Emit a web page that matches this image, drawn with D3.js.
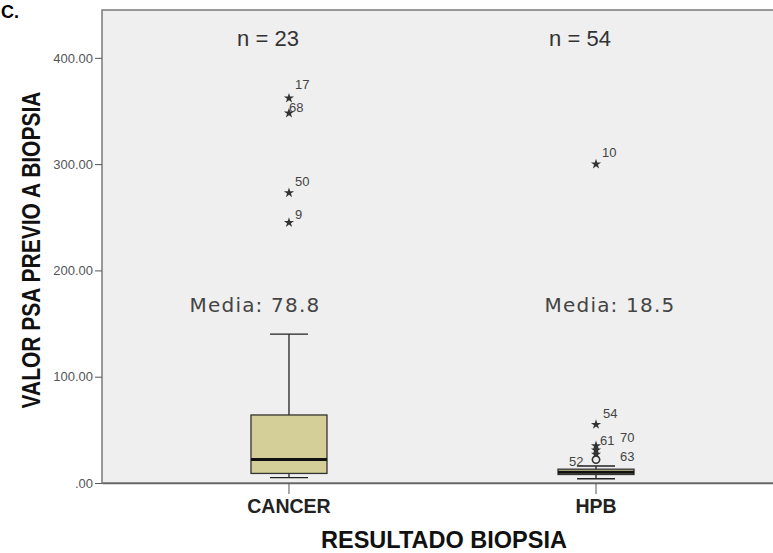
<!DOCTYPE html>
<html>
<head>
<meta charset="utf-8">
<script src="https://cdn.jsdelivr.net/npm/d3@7"></script>
<style>
  body { margin: 0; background: #fff; }
  svg { display: block; font-family: "Liberation Sans", Arial, sans-serif; }
</style>
</head>
<body>
<svg id="box" width="773" height="553"></svg>
<script>
// data
var groups = ['CANCER', 'HPB']
var groupN = [23, 54]
var groupMean = [78.8, 18.5]
// whisker low, q1, median, q3, whisker high
var boxStats = [
  [5, 9, 22, 64, 140],
  [4, 8, 10, 13, 16]
]
// outliers: group, case id, value, kind (star = extreme, circle = outlier)
var outGroup = ['CANCER', 'CANCER', 'CANCER', 'CANCER', 'HPB', 'HPB', 'HPB', 'HPB', 'HPB', 'HPB']
var outId = ['17', '68', '50', '9', '10', '54', '61', '70', '63', '52']
var outValue = [362, 348, 273, 245, 300, 55, 35, 31, 27, 22]
var outKind = ['star', 'star', 'star', 'star', 'star', 'star', 'star', 'star', 'star', 'circle']
var yTicks = [0, 100, 200, 300, 400]

var margins = {top: 10, left: 102, bottom: 70}
var outerWidth = 773, outerHeight = 553
var plotRight = 783
var plotBottom = outerHeight - margins.bottom

var svg = d3.select('svg#box')

svg.append('text')
  .attr('x', 1).attr('y', 18)
  .style('font-size', '18px').style('font-weight', 'bold')
  .text('C.')

var xScale = d3.scaleBand()
  .domain(groups)
  .range([margins.left, plotRight])
  .paddingInner(0)
  .paddingOuter(0.109)

var yScale = d3.scaleLinear()
  .domain([0, 445])
  .range([plotBottom, margins.top])

// plot background + frame
svg.append('rect')
  .attr('x', margins.left).attr('y', margins.top)
  .attr('width', plotRight - margins.left)
  .attr('height', plotBottom - margins.top)
  .style('fill', '#efefef')
  .style('stroke', '#7a7a7a')
  .style('stroke-width', 1.5)

var yAxis = d3.axisLeft(yScale)
  .tickValues(yTicks)
  .tickSize(7)
  .tickFormat(function(d) { return d === 0 ? '.00' : d3.format('.2f')(d) })

var gy = svg.append('g')
  .attr('class', 'y axis')
  .attr('transform', 'translate(' + margins.left + ',0)')
  .call(yAxis)
gy.select('.domain').remove()
gy.selectAll('line').style('stroke', '#555')
gy.selectAll('text')
  .attr('x', -9)
  .style('font-size', '13px')
  .style('fill', '#555')
  .style('font-family', 'Liberation Sans, Arial, sans-serif')

var xAxis = d3.axisBottom(xScale).tickSize(11).tickSizeOuter(0)
var gx = svg.append('g')
  .attr('class', 'x axis')
  .attr('transform', 'translate(0,' + plotBottom + ')')
  .call(xAxis)
gx.select('.domain').style('stroke', '#666').style('stroke-width', 1.5)
gx.selectAll('line').style('stroke', '#555')
gx.selectAll('text')
  .attr('y', 16)
  .attr('dy', '0.71em')
  .style('font-size', '19.5px')
  .style('font-weight', 'bold')
  .style('fill', '#222')
  .style('font-family', 'Liberation Sans, Arial, sans-serif')

// axis titles
svg.append('text')
  .attr('x', 444).attr('y', 548)
  .attr('text-anchor', 'middle')
  .style('font-size', '23.5px').style('font-weight', 'bold').style('fill', '#111')
  .text('RESULTADO BIOPSIA')

svg.append('text')
  .attr('transform', 'translate(40,250) rotate(-90) scale(1,1.25)')
  .attr('text-anchor', 'middle')
  .style('font-size', '21px').style('font-weight', 'bold').style('fill', '#111')
  .text('VALOR PSA PREVIO A BIOPSIA')

// boxes
var boxW = 76, capW = 38
var g = svg.selectAll('.box_group')
  .data(groups)
  .enter()
  .append('g')
  .attr('class', 'box_group')

g.each(function(name, i) {
  var s = boxStats[i]
  var cx = xScale(name) + xScale.bandwidth() / 2
  var grp = d3.select(this)
  grp.append('line')
    .attr('x1', cx).attr('x2', cx)
    .attr('y1', yScale(s[0])).attr('y2', yScale(s[4]))
    .style('stroke', '#222').style('stroke-width', 1.3)
  grp.selectAll('.cap').data([s[0], s[4]]).enter().append('line')
    .attr('x1', cx - capW / 2).attr('x2', cx + capW / 2)
    .attr('y1', function(d) { return yScale(d) })
    .attr('y2', function(d) { return yScale(d) })
    .style('stroke', '#222').style('stroke-width', 1.3)
  grp.append('rect')
    .attr('x', cx - boxW / 2).attr('width', boxW)
    .attr('y', yScale(s[3]))
    .attr('height', yScale(s[1]) - yScale(s[3]))
    .style('fill', '#d4cf98')
    .style('stroke', '#333').style('stroke-width', 1.3)
  grp.append('line')
    .attr('x1', cx - boxW / 2).attr('x2', cx + boxW / 2)
    .attr('y1', yScale(s[2])).attr('y2', yScale(s[2]))
    .style('stroke', '#111').style('stroke-width', 3)
})

// outliers
var star = d3.symbol().type(d3.symbolStar).size(32)
var circ = d3.symbol().type(d3.symbolCircle).size(42)
var labelShift = {'17': [6, -9], '68': [0, -1], '50': [6, -7], '9': [6, -4], '10': [6, -7],
                  '54': [7, -7], '61': [4, -1], '70': [24, -8], '63': [24, 7], '52': [-27, 6]}

outValue.forEach(function(v, i) {
  var cx = xScale(outGroup[i]) + xScale.bandwidth() / 2
  var cy = yScale(v)
  if (outKind[i] === 'star') {
    svg.append('path')
      .attr('d', star())
      .attr('transform', 'translate(' + cx + ',' + cy + ')')
      .style('fill', '#333')
  } else {
    svg.append('path')
      .attr('d', circ())
      .attr('transform', 'translate(' + cx + ',' + cy + ')')
      .style('fill', 'none').style('stroke', '#333').style('stroke-width', 1.6)
  }
  var sh = labelShift[outId[i]]
  svg.append('text')
    .attr('x', cx + sh[0]).attr('y', cy + sh[1])
    .style('font-size', '13px').style('fill', '#444')
    .text(outId[i])
})

// n and mean annotations
var nX = [268, 580], meanX = [255, 610]
groups.forEach(function(name, i) {
  svg.append('text')
    .attr('x', nX[i]).attr('y', 46)
    .attr('text-anchor', 'middle')
    .style('font-size', '22px').style('fill', '#333')
    .text('n = ' + groupN[i])
  svg.append('text')
    .attr('x', meanX[i]).attr('y', 312)
    .attr('text-anchor', 'middle')
    .style('font-size', '20px').style('fill', '#444')
    .style('letter-spacing', '1.2px')
    .style('font-family', 'DejaVu Sans, sans-serif')
    .text('Media: ' + groupMean[i])
})
</script>
</body>
</html>
